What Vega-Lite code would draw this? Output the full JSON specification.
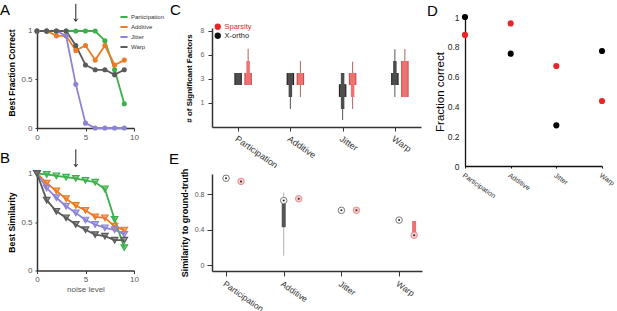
{
"$schema": "https://vega.github.io/schema/vega-lite/v6.json",
"padding": {"left": 0, "top": 2, "right": 0, "bottom": 0},
"config": {
  "font": "Liberation Sans",
  "view": {"stroke": null},
  "axis": {"grid": false, "domainColor": "#333", "tickColor": "#333", "labelColor": "#555", "titleColor": "#000", "labelFont": "Liberation Sans", "titleFont": "Liberation Sans"},
  "title": {"anchor": "start", "frame": "group", "fontSize": 15, "fontWeight": "normal", "font": "Liberation Sans", "color": "#000", "offset": 0},
  "legend": {"labelFont": "Liberation Sans"}
},
"datasets": {
  "acc": [
    {"noise":0,"type":"Participation","value":1},{"noise":1,"type":"Participation","value":1},{"noise":2,"type":"Participation","value":1},{"noise":3,"type":"Participation","value":1},{"noise":4,"type":"Participation","value":1},{"noise":5,"type":"Participation","value":1},{"noise":6,"type":"Participation","value":1},{"noise":7,"type":"Participation","value":0.9},{"noise":8,"type":"Participation","value":0.6},{"noise":9,"type":"Participation","value":0.25},
    {"noise":0,"type":"Additive","value":1},{"noise":1,"type":"Additive","value":1},{"noise":2,"type":"Additive","value":0.95},{"noise":3,"type":"Additive","value":0.95},{"noise":4,"type":"Additive","value":0.8},{"noise":5,"type":"Additive","value":0.85},{"noise":6,"type":"Additive","value":0.7},{"noise":7,"type":"Additive","value":0.85},{"noise":8,"type":"Additive","value":0.65},{"noise":9,"type":"Additive","value":0.7},
    {"noise":0,"type":"Jitter","value":1},{"noise":1,"type":"Jitter","value":1},{"noise":2,"type":"Jitter","value":1},{"noise":3,"type":"Jitter","value":0.95},{"noise":4,"type":"Jitter","value":0.45},{"noise":5,"type":"Jitter","value":0.05},{"noise":6,"type":"Jitter","value":0},{"noise":7,"type":"Jitter","value":0},{"noise":8,"type":"Jitter","value":0},{"noise":9,"type":"Jitter","value":0},
    {"noise":0,"type":"Warp","value":1},{"noise":1,"type":"Warp","value":1},{"noise":2,"type":"Warp","value":1},{"noise":3,"type":"Warp","value":1},{"noise":4,"type":"Warp","value":0.85},{"noise":5,"type":"Warp","value":0.65},{"noise":6,"type":"Warp","value":0.6},{"noise":7,"type":"Warp","value":0.6},{"noise":8,"type":"Warp","value":0.55},{"noise":9,"type":"Warp","value":0.6}
  ],
  "sim": [
    {"noise":0,"type":"Participation","value":1},{"noise":1,"type":"Participation","value":0.99},{"noise":2,"type":"Participation","value":0.976},{"noise":3,"type":"Participation","value":0.962},{"noise":4,"type":"Participation","value":0.95},{"noise":5,"type":"Participation","value":0.93},{"noise":6,"type":"Participation","value":0.91},{"noise":7,"type":"Participation","value":0.84},{"noise":8,"type":"Participation","value":0.527},{"noise":9,"type":"Participation","value":0.236},
    {"noise":0,"type":"Additive","value":1},{"noise":1,"type":"Additive","value":0.9},{"noise":2,"type":"Additive","value":0.82},{"noise":3,"type":"Additive","value":0.74},{"noise":4,"type":"Additive","value":0.67},{"noise":5,"type":"Additive","value":0.62},{"noise":6,"type":"Additive","value":0.553},{"noise":7,"type":"Additive","value":0.543},{"noise":8,"type":"Additive","value":0.457},{"noise":9,"type":"Additive","value":0.417},
    {"noise":0,"type":"Jitter","value":1},{"noise":1,"type":"Jitter","value":0.85},{"noise":2,"type":"Jitter","value":0.75},{"noise":3,"type":"Jitter","value":0.663},{"noise":4,"type":"Jitter","value":0.594},{"noise":5,"type":"Jitter","value":0.52},{"noise":6,"type":"Jitter","value":0.474},{"noise":7,"type":"Jitter","value":0.44},{"noise":8,"type":"Jitter","value":0.42},{"noise":9,"type":"Jitter","value":0.372},
    {"noise":0,"type":"Warp","value":1},{"noise":1,"type":"Warp","value":0.725},{"noise":2,"type":"Warp","value":0.61},{"noise":3,"type":"Warp","value":0.543},{"noise":4,"type":"Warp","value":0.474},{"noise":5,"type":"Warp","value":0.42},{"noise":6,"type":"Warp","value":0.37},{"noise":7,"type":"Warp","value":0.354},{"noise":8,"type":"Warp","value":0.313},{"noise":9,"type":"Warp","value":0.313}
  ],
  "arrowA": [{"noise":4,"top":1.28,"tip":1.1}],
  "arrowB": [{"noise":4,"top":1.25,"tip":1.07}],
  "nsig": [
    {"method":"Participation","alg":"X-ortho","seg":"box","lo":1.75,"hi":2.25},
    {"method":"Participation","alg":"Sparsity","seg":"box","lo":1.75,"hi":2.25},
    {"method":"Participation","alg":"Sparsity","seg":"med","lo":2.25,"hi":2.75},
    {"method":"Participation","alg":"Sparsity","seg":"thin","lo":2.75,"hi":3.26},
    {"method":"Additive","alg":"X-ortho","seg":"box","lo":1.75,"hi":2.25},
    {"method":"Additive","alg":"X-ortho","seg":"med","lo":1.25,"hi":1.75},
    {"method":"Additive","alg":"X-ortho","seg":"thin","lo":0.75,"hi":1.25},
    {"method":"Additive","alg":"Sparsity","seg":"box","lo":1.75,"hi":2.25},
    {"method":"Additive","alg":"Sparsity","seg":"thin","lo":1.25,"hi":1.75},
    {"method":"Additive","alg":"Sparsity","seg":"thin","lo":2.25,"hi":2.75},
    {"method":"Jitter","alg":"X-ortho","seg":"box","lo":1.25,"hi":1.78},
    {"method":"Jitter","alg":"X-ortho","seg":"med","lo":1.78,"hi":2.25},
    {"method":"Jitter","alg":"X-ortho","seg":"med","lo":0.75,"hi":1.25},
    {"method":"Jitter","alg":"X-ortho","seg":"thin","lo":0.29,"hi":0.75},
    {"method":"Jitter","alg":"Sparsity","seg":"box","lo":1.75,"hi":2.25},
    {"method":"Jitter","alg":"Sparsity","seg":"med","lo":1.25,"hi":1.75},
    {"method":"Jitter","alg":"Sparsity","seg":"thin","lo":0.75,"hi":1.25},
    {"method":"Jitter","alg":"Sparsity","seg":"thin","lo":2.25,"hi":2.72},
    {"method":"Warp","alg":"X-ortho","seg":"box","lo":1.75,"hi":2.25},
    {"method":"Warp","alg":"X-ortho","seg":"med","lo":2.25,"hi":2.75},
    {"method":"Warp","alg":"X-ortho","seg":"thin","lo":2.75,"hi":3.24},
    {"method":"Warp","alg":"X-ortho","seg":"thin","lo":1.25,"hi":1.75},
    {"method":"Warp","alg":"Sparsity","seg":"box","lo":1.25,"hi":2.75},
    {"method":"Warp","alg":"Sparsity","seg":"thin","lo":2.75,"hi":3.25}
  ],
  "frac": [
    {"method":"Participation","alg":"Sparsity","value":0.88},{"method":"Participation","alg":"X-ortho","value":1.0},
    {"method":"Additive","alg":"Sparsity","value":0.957},{"method":"Additive","alg":"X-ortho","value":0.754},
    {"method":"Jitter","alg":"Sparsity","value":0.671},{"method":"Jitter","alg":"X-ortho","value":0.273},
    {"method":"Warp","alg":"Sparsity","value":0.436},{"method":"Warp","alg":"X-ortho","value":0.772}
  ],
  "gt": [
    {"method":"Participation","alg":"X-ortho","med":0.98,"blo":null,"bhi":null,"wlo":null,"whi":null},
    {"method":"Participation","alg":"Sparsity","med":0.945,"blo":null,"bhi":null,"wlo":null,"whi":null},
    {"method":"Additive","alg":"X-ortho","med":0.73,"blo":0.43,"bhi":0.73,"wlo":0.11,"whi":0.82},
    {"method":"Additive","alg":"Sparsity","med":0.75,"blo":null,"bhi":null,"wlo":null,"whi":null},
    {"method":"Jitter","alg":"X-ortho","med":0.62,"blo":null,"bhi":null,"wlo":null,"whi":null},
    {"method":"Jitter","alg":"Sparsity","med":0.62,"blo":null,"bhi":null,"wlo":null,"whi":null},
    {"method":"Warp","alg":"X-ortho","med":0.51,"blo":null,"bhi":null,"wlo":null,"whi":null},
    {"method":"Warp","alg":"Sparsity","med":0.34,"blo":0.34,"bhi":0.5,"wlo":null,"whi":null}
  ]
},
"spacing": 4,
"align": "none",
"resolve": {"scale": {"color": "independent", "fill": "independent", "stroke": "independent", "xOffset": "independent"}},
"hconcat": [
  {"spacing": 7.5,
   "vconcat": [
      {"width": 97, "height": 111,
       "title": {"text": "A", "dx": -37, "dy": 18.2},
       "layer": [
        {"data": {"name": "acc"}, "mark": {"type": "line", "strokeWidth": 1.8},
         "encoding": {
          "x": {"field": "noise", "type": "quantitative", "scale": {"domain": [0, 10], "nice": false},
                "axis": {"values": [0, 5, 10], "title": null, "labelFontSize": 8, "tickSize": 3, "labelPadding": 2, "domainWidth": 1.5, "labelFlush": false}},
          "y": {"field": "value", "type": "quantitative", "scale": {"domain": [0, 1.1443], "nice": false},
                "axis": {"values": [0, 0.5, 1], "format": "~g", "title": "Best Fraction Correct", "titleFontSize": 8.5, "titleFontWeight": "bold", "labelFontSize": 8, "tickSize": 2, "labelPadding": 3, "titlePadding": 4, "domainWidth": 1.5, "domainDash": [97, 400]}},
          "color": {"field": "type", "type": "nominal", "scale": {"domain": ["Participation", "Additive", "Jitter", "Warp"], "range": ["#3bb04a", "#ee7a24", "#8b83d6", "#5a5a5a"]},
                    "legend": {"orient": "none", "legendX": 82, "legendY": -5, "title": null, "symbolType": "stroke", "symbolStrokeWidth": 2, "symbolSize": 50, "labelFontSize": 6, "labelColor": "#333", "rowPadding": 1, "labelOffset": 2, "padding": 0}}
         }},
        {"data": {"name": "acc"}, "mark": {"type": "point", "filled": true, "size": 26, "opacity": 1},
         "encoding": {
          "x": {"field": "noise", "type": "quantitative"},
          "y": {"field": "value", "type": "quantitative"},
          "color": {"field": "type", "type": "nominal", "legend": null}
         }},
        {"data": {"name": "arrowA"}, "mark": {"type": "rule", "color": "#222", "strokeWidth": 1},
         "encoding": {"x": {"field": "noise", "type": "quantitative"}, "y": {"field": "top", "type": "quantitative"}, "y2": {"field": "tip"}}},
        {"data": {"name": "arrowA"}, "mark": {"type": "point", "shape": "M-1,-1.4L0,0L1,-1.4", "filled": false, "color": "#222", "strokeWidth": 1, "size": 14, "opacity": 1},
         "encoding": {"x": {"field": "noise", "type": "quantitative"}, "y": {"field": "tip", "type": "quantitative"}}}
       ]},
      {"width": 97, "height": 97,
       "title": {"text": "B", "dx": -37, "dy": 21.5},
       "layer": [
        {"data": {"name": "sim"}, "mark": {"type": "line", "strokeWidth": 1.8},
         "encoding": {
          "x": {"field": "noise", "type": "quantitative", "scale": {"domain": [0, 10], "nice": false},
                "axis": {"values": [0, 5, 10], "title": "noise level", "titleFontSize": 8, "titleFontWeight": "normal", "titleColor": "#555", "titlePadding": 2, "labelFontSize": 8, "tickSize": 3, "labelPadding": 2, "domainWidth": 1.5, "labelFlush": false}},
          "y": {"field": "value", "type": "quantitative", "scale": {"domain": [0, 1], "nice": false},
                "axis": {"values": [0, 0.5, 1], "format": "~g", "title": "Best Similarity", "titleFontSize": 8.7, "titleFontWeight": "bold", "labelFontSize": 8, "tickSize": 2, "labelPadding": 3, "titlePadding": 4, "domainWidth": 1.5}},
          "color": {"field": "type", "type": "nominal", "scale": {"domain": ["Participation", "Additive", "Jitter", "Warp"], "range": ["#3bb04a", "#ee7a24", "#8b83d6", "#5a5a5a"]}, "legend": null}
         }},
        {"data": {"name": "sim"}, "mark": {"type": "point", "shape": "triangle-down", "filled": true, "size": 42, "fillOpacity": 0.6, "strokeWidth": 1.2, "opacity": 1},
         "encoding": {
          "x": {"field": "noise", "type": "quantitative"},
          "y": {"field": "value", "type": "quantitative"},
          "fill": {"field": "type", "type": "nominal", "scale": {"domain": ["Participation", "Additive", "Jitter", "Warp"], "range": ["#3bb04a", "#ee7a24", "#8b83d6", "#5a5a5a"]}, "legend": null},
          "stroke": {"field": "type", "type": "nominal", "scale": {"domain": ["Participation", "Additive", "Jitter", "Warp"], "range": ["#3bb04a", "#ee7a24", "#8b83d6", "#5a5a5a"]}, "legend": null}
         }},
        {"data": {"name": "arrowB"}, "mark": {"type": "rule", "color": "#222", "strokeWidth": 1},
         "encoding": {"x": {"field": "noise", "type": "quantitative"}, "y": {"field": "top", "type": "quantitative"}, "y2": {"field": "tip"}}},
        {"data": {"name": "arrowB"}, "mark": {"type": "point", "shape": "M-1,-1.4L0,0L1,-1.4", "filled": false, "color": "#222", "strokeWidth": 1, "size": 14, "opacity": 1},
         "encoding": {"x": {"field": "noise", "type": "quantitative"}, "y": {"field": "tip", "type": "quantitative"}}}
       ]}
   ]},
  {"spacing": 5,
   "align": "none",
   "resolve": {"scale": {"color": "independent", "fill": "independent", "stroke": "independent", "xOffset": "independent"}},
   "hconcat": [
      {"spacing": -19,
       "resolve": {"scale": {"color": "independent", "fill": "independent", "stroke": "independent", "xOffset": "independent"}},
       "vconcat": [
        {"width": 209, "height": 110,
         "title": {"text": "C", "dx": -42, "dy": 5},
         "data": {"name": "nsig"},
         "resolve": {"scale": {"color": "independent"}},
         "encoding": {
          "x": {"field": "method", "type": "nominal", "sort": ["Participation", "Additive", "Jitter", "Warp"], "scale": {"type": "point", "padding": 0.5},
                "axis": {"title": null, "labelAngle": 35, "labelFontSize": 9, "labelColor": "#333", "tickSize": 4, "domainWidth": 1.5, "labelPadding": 3}},
          "xOffset": {"field": "alg", "type": "nominal", "scale": {"type": "point", "domain": ["X-ortho", "Sparsity"], "range": [0, 10], "padding": 0}},
          "y": {"field": "lo", "type": "quantitative", "scale": {"domain": [0, 4.583], "nice": false},
                "axis": {"values": [1, 2, 3, 4], "labelExpr": "datum.value == 1 ? '1' : datum.value == 2 ? '3' : datum.value == 3 ? '6' : '8'", "title": "# of Significant Factors", "titleFontSize": 8, "titleFontWeight": "bold", "titleY": 61, "labelFontSize": 7, "labelColor": "#666", "tickSize": 4, "labelPadding": 4, "titlePadding": 7, "domainWidth": 1.5, "domainDash": [99, 400]}},
          "y2": {"field": "hi"}
         },
         "layer": [
          {"transform": [{"filter": "datum.seg == 'thin'"}], "mark": {"type": "rule", "strokeWidth": 1},
           "encoding": {"color": {"field": "alg", "type": "nominal", "scale": {"domain": ["Sparsity", "X-ortho"], "range": ["#b06060", "#555555"]}, "legend": null}}},
          {"transform": [{"filter": "datum.seg == 'box'"}], "mark": {"type": "rule", "strokeWidth": 7.5},
           "encoding": {"color": {"field": "alg", "type": "nominal", "scale": {"domain": ["Sparsity", "X-ortho"], "range": ["#c84848", "#222222"]}, "legend": null}}},
          {"transform": [{"filter": "datum.seg == 'med'"}], "mark": {"type": "rule", "strokeWidth": 3.5},
           "encoding": {"color": {"field": "alg", "type": "nominal", "scale": {"domain": ["Sparsity", "X-ortho"], "range": ["#ef7272", "#4d4d4d"]}, "legend": null}}},
          {"transform": [{"filter": "datum.seg == 'box'"}], "mark": {"type": "rule", "strokeWidth": 5.5},
           "encoding": {"color": {"field": "alg", "type": "nominal", "scale": {"domain": ["Sparsity", "X-ortho"], "range": ["#ef7272", "#4d4d4d"]},
             "legend": {"orient": "none", "legendX": 2, "legendY": 6, "title": null, "symbolType": "circle", "symbolSize": 40, "symbolStrokeWidth": 0, "labelFontSize": 7.5, "rowPadding": 0, "padding": 0, "labelOffset": 3,
               "encode": {"symbols": {"update": {"fill": {"signal": "datum.value === 'Sparsity' ? '#e8262a' : '#111111'"}, "stroke": {"value": "transparent"}, "opacity": {"value": 1}}},
                          "labels": {"update": {"fill": {"signal": "datum.value === 'Sparsity' ? '#e8262a' : '#222222'"}}}}}}}}
         ]},
        {"width": 210, "height": 97,
         "title": {"text": "E", "dx": -43, "dy": 2.5},
         "data": {"name": "gt"},
         "resolve": {"scale": {"color": "independent", "fill": "independent", "stroke": "independent"}},
         "encoding": {
          "x": {"field": "method", "type": "nominal", "sort": ["Participation", "Additive", "Jitter", "Warp"], "scale": {"type": "point", "padding": 0.32, "align": 0.38},
                "axis": {"title": null, "labelAngle": 35, "labelFontSize": 8.5, "labelColor": "#333", "tickSize": 5, "domainWidth": 1.5, "labelPadding": 3}},
          "xOffset": {"field": "alg", "type": "nominal", "scale": {"type": "point", "domain": ["X-ortho", "Sparsity"], "range": [0, 15], "padding": 0}}
         },
         "layer": [
          {"transform": [{"filter": "isValid(datum.wlo)"}], "mark": {"type": "rule", "strokeWidth": 1, "color": "#b0b0b0"},
           "encoding": {"y": {"field": "wlo", "type": "quantitative", "scale": {"domain": [-0.062, 1.028], "nice": false},
             "axis": {"values": [0, 0.2, 0.4, 0.6, 0.8, 1], "format": "~g", "title": "Similarity to ground-truth", "titleFontSize": 9, "titleFontWeight": "bold", "labelFontSize": 7, "labelColor": "#555", "tickSize": 5, "labelPadding": 3, "titlePadding": 5, "domainWidth": 1.5}},
             "y2": {"field": "whi"}}},
          {"transform": [{"filter": "isValid(datum.blo)"}], "mark": {"type": "rule", "strokeWidth": 4},
           "encoding": {"y": {"field": "blo", "type": "quantitative"}, "y2": {"field": "bhi"},
             "color": {"field": "alg", "type": "nominal", "scale": {"domain": ["Sparsity", "X-ortho"], "range": ["#ef6f6f", "#555555"]}, "legend": null}}},
          {"mark": {"type": "point", "shape": "circle", "filled": true, "size": 42, "strokeWidth": 1, "opacity": 1},
           "encoding": {"y": {"field": "med", "type": "quantitative"},
             "fill": {"field": "alg", "type": "nominal", "scale": {"domain": ["Sparsity", "X-ortho"], "range": ["#f8cccc", "#ffffff"]}, "legend": null},
             "stroke": {"field": "alg", "type": "nominal", "scale": {"domain": ["Sparsity", "X-ortho"], "range": ["#ea8a8a", "#777777"]}, "legend": null}}},
          {"mark": {"type": "point", "shape": "circle", "filled": true, "size": 4, "color": "#222", "opacity": 1},
           "encoding": {"y": {"field": "med", "type": "quantitative"}}}
         ]}
       ]},
    {"width": 137, "height": 149,
     "title": {"text": "D", "dx": -38, "dy": 9.5},
     "data": {"name": "frac"},
     "mark": {"type": "point", "filled": true, "size": 38, "opacity": 1},
     "encoding": {
      "x": {"field": "method", "type": "nominal", "sort": ["Participation", "Additive", "Jitter", "Warp"], "scale": {"type": "point", "padding": 0},
            "axis": {"title": null, "labelAngle": 35, "labelFontSize": 7, "labelColor": "#333", "tickSize": 2, "domainWidth": 1.3, "domainColor": "#111", "tickColor": "#111", "labelPadding": 3}},
      "y": {"field": "value", "type": "quantitative", "scale": {"domain": [0, 1], "nice": false},
            "axis": {"values": [0, 0.2, 0.4, 0.6, 0.8, 1], "format": "~g", "title": "Fraction correct", "titleFontSize": 11.5, "titleFontWeight": "normal", "labelFontSize": 8.5, "labelColor": "#222", "tickSize": 0, "labelPadding": 6, "titlePadding": 2, "domainWidth": 1.3, "domainColor": "#111"}},
      "color": {"field": "alg", "type": "nominal", "scale": {"domain": ["Sparsity", "X-ortho"], "range": ["#e8262a", "#000000"]}, "legend": null}
     }}
   ]}
]
}
